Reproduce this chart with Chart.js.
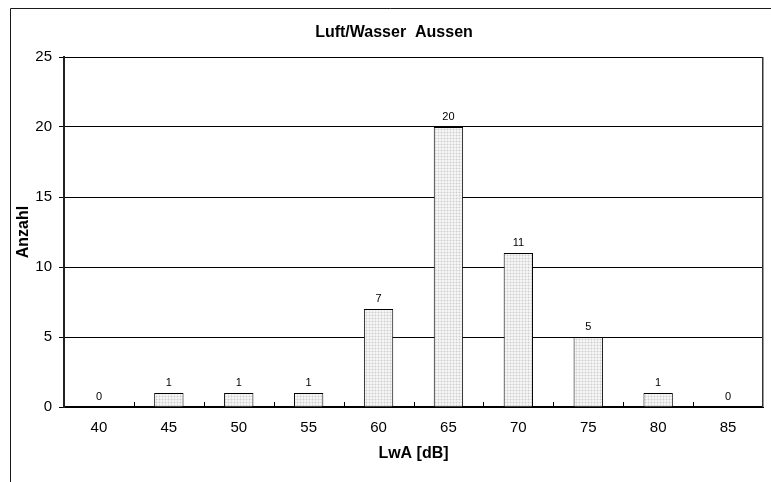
<!DOCTYPE html>
<html>
<head>
<meta charset="utf-8">
<script src="https://cdn.jsdelivr.net/npm/chart.js@4/dist/chart.umd.min.js"></script>
<style>
  html, body { margin: 0; padding: 0; background: #fff; }
  #wrap { width: 771px; height: 482px; }
</style>
</head>
<body>
<div id="wrap"><canvas id="chart" width="771" height="482"></canvas></div>
<script>
// ---- data ----
const categories = ['40', '45', '50', '55', '60', '65', '70', '75', '80', '85'];
const counts = [0, 1, 1, 1, 7, 20, 11, 5, 1, 0];
const yMax = 25;
const yStep = 5;

const chartTitle = 'Luft/Wasser  Aussen';
const xTitle = 'LwA [dB]';
const yTitle = 'Anzahl';

const FONT = '"Liberation Sans", Arial, sans-serif';

// dotted fill like the old excel bars
function makePattern() {
  const c = document.createElement('canvas');
  c.width = 3; c.height = 3;
  const g = c.getContext('2d');
  g.fillStyle = '#f5f5f5';
  g.fillRect(0, 0, 3, 3);
  g.fillStyle = '#e6e6e6';
  g.fillRect(0, 0, 3, 1);
  g.fillRect(0, 0, 1, 3);
  g.fillStyle = '#cfcfcf';
  g.fillRect(0, 0, 1, 1);
  return g.createPattern(c, 'repeat');
}

// frame, title, right border, x tick marks, value labels
const decor = {
  id: 'decor',
  beforeDraw(chart) {
    const ctx = chart.ctx;
    ctx.save();
    ctx.strokeStyle = '#1a1a1a';
    ctx.lineWidth = 1;
    ctx.beginPath();
    ctx.moveTo(10.5, 482);
    ctx.lineTo(10.5, 8.5);
    ctx.lineTo(771, 8.5);
    ctx.stroke();

    ctx.fillStyle = '#000';
    ctx.font = 'bold 16px ' + FONT;
    ctx.textAlign = 'center';
    ctx.textBaseline = 'middle';
    ctx.fillText(chartTitle, 394, 33);
    ctx.restore();
  },
  afterDraw(chart) {
    const ctx = chart.ctx;
    const area = chart.chartArea;
    const x = chart.scales.x;
    ctx.save();
    // right edge of plot area
    ctx.strokeStyle = '#333';
    ctx.lineWidth = 1;
    ctx.beginPath();
    ctx.moveTo(area.right - 0.5, area.top);
    ctx.lineTo(area.right - 0.5, area.bottom);
    ctx.stroke();
    ctx.strokeStyle = '#999';
    ctx.beginPath();
    ctx.moveTo(area.right + 0.5, area.top);
    ctx.lineTo(area.right + 0.5, area.bottom);
    ctx.stroke();

    // small inward ticks between categories
    ctx.strokeStyle = '#000';
    for (let i = 1; i < categories.length; i++) {
      const px = Math.round((x.getPixelForValue(i - 1) + x.getPixelForValue(i)) / 2) + 0.5;
      ctx.beginPath();
      ctx.moveTo(px, area.bottom - 5);
      ctx.lineTo(px, area.bottom);
      ctx.stroke();
    }

    // value labels over bars
    ctx.fillStyle = '#000';
    ctx.font = '11px ' + FONT;
    ctx.textAlign = 'center';
    ctx.textBaseline = 'middle';
    const meta = chart.getDatasetMeta(0);
    meta.data.forEach((bar, i) => {
      ctx.fillText(String(counts[i]), bar.x, bar.y - 10);
    });
    ctx.restore();
  }
};

const ctx = document.getElementById('chart').getContext('2d');
new Chart(ctx, {
  type: 'bar',
  data: {
    labels: categories,
    datasets: [{
      data: counts,
      backgroundColor: makePattern(),
      borderColor: '#000',
      borderWidth: 1,
      categoryPercentage: 1,
      barPercentage: 0.42,
    }]
  },
  options: {
    responsive: false,
    animation: false,
    events: [],
    layout: { padding: { top: 57, right: 8, left: 0, bottom: 0 } },
    plugins: {
      legend: { display: false },
      tooltip: { enabled: false },
    },
    scales: {
      x: {
        grid: { display: false, drawTicks: false },
        border: { display: true, color: '#000', width: 2 },
        ticks: { color: '#000', font: { family: FONT, size: 15 }, padding: 12, maxRotation: 0 },
        title: {
          display: true, text: xTitle, color: '#000',
          font: { family: FONT, size: 16, weight: 'bold' },
          padding: { top: 0, bottom: 19 }
        },
        afterFit(s) { s.height = 75; }
      },
      y: {
        min: 0,
        max: yMax,
        grid: { color: '#000', lineWidth: 1, tickLength: 5, drawTicks: true },
        border: { display: true, color: '#222', width: 2 },
        ticks: { stepSize: yStep, color: '#000', font: { family: FONT, size: 15 }, padding: 7 },
        title: {
          display: true, text: yTitle, color: '#000',
          font: { family: FONT, size: 16, weight: 'bold' },
          padding: { top: 14, bottom: 0 }
        },
        afterFit(s) { s.width = 64; }
      }
    }
  },
  plugins: [decor]
});
</script>
</body>
</html>
